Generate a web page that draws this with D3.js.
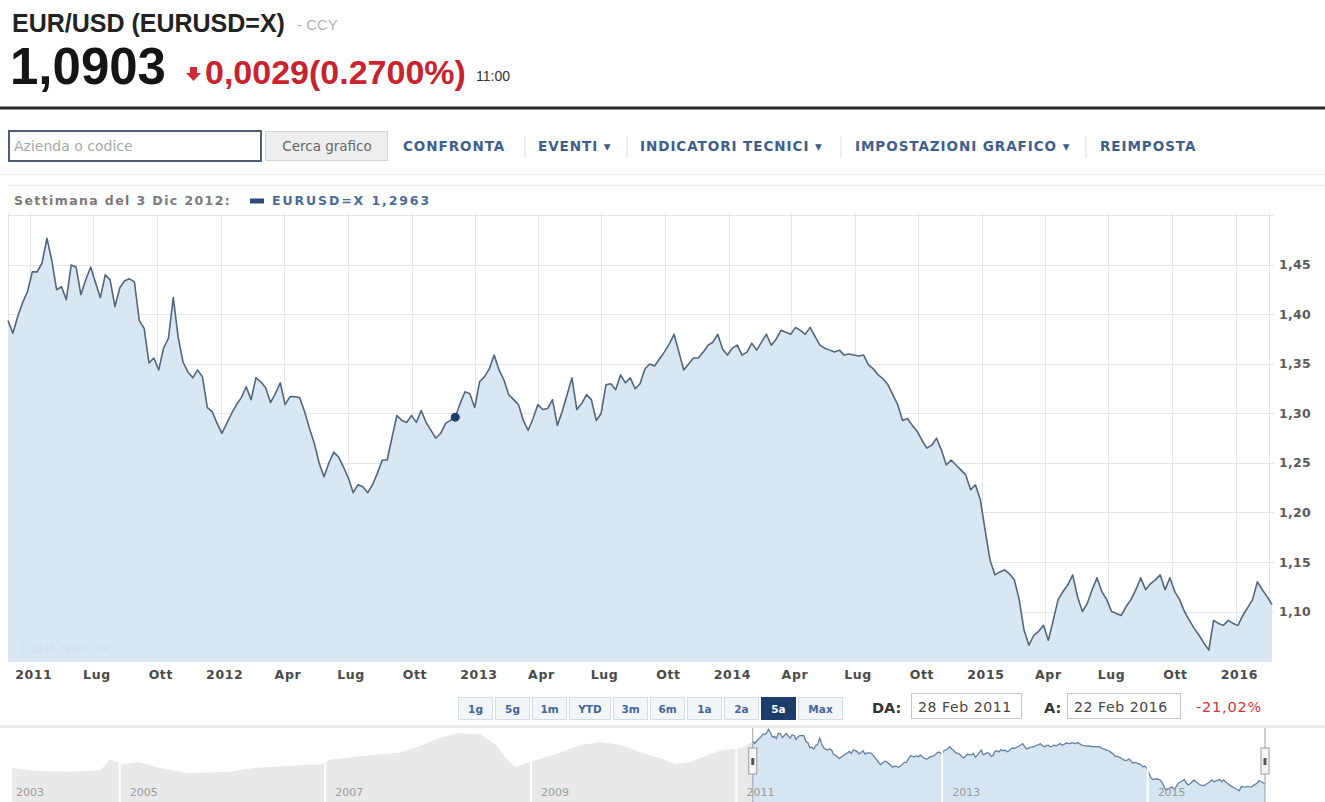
<!DOCTYPE html>
<html><head><meta charset="utf-8">
<script src="https://cdn.jsdelivr.net/npm/d3@7"></script>
<style>
body{margin:0;background:#fff;}
svg{display:block;}
</style></head><body>
<svg id="c" width="1325" height="802"></svg>
<script>
// ---------------- DATA ----------------
const weekStart = "2011-02-28";
const weekEnd = "2016-02-22";
const weeklyClose = [
1.394,1.381,1.398,1.412,1.423,1.443,1.443,1.452,1.477,1.455,
1.425,1.428,1.415,1.450,1.448,1.420,1.435,1.448,1.432,1.417,
1.440,1.435,1.408,1.427,1.434,1.436,1.433,1.394,1.386,1.351,
1.356,1.344,1.366,1.376,1.417,1.377,1.352,1.342,1.336,1.344,
1.337,1.306,1.302,1.290,1.280,1.290,1.300,1.309,1.316,1.327,
1.314,1.336,1.332,1.326,1.311,1.320,1.331,1.309,1.317,1.317,
1.316,1.302,1.285,1.270,1.250,1.236,1.250,1.261,1.256,1.246,
1.235,1.220,1.228,1.226,1.220,1.228,1.240,1.253,1.253,1.276,
1.298,1.293,1.291,1.298,1.291,1.303,1.291,1.283,1.275,1.280,
1.290,1.293,1.2963,1.310,1.322,1.320,1.306,1.332,1.337,1.345,
1.359,1.344,1.334,1.319,1.314,1.309,1.293,1.283,1.295,1.309,
1.304,1.305,1.314,1.288,1.302,1.319,1.336,1.304,1.310,1.319,
1.314,1.293,1.300,1.329,1.330,1.324,1.339,1.331,1.336,1.325,
1.330,1.345,1.350,1.348,1.355,1.362,1.370,1.380,1.362,1.344,
1.350,1.356,1.356,1.362,1.369,1.372,1.380,1.365,1.359,1.366,
1.369,1.359,1.362,1.371,1.364,1.372,1.380,1.369,1.375,1.384,
1.382,1.380,1.387,1.384,1.380,1.387,1.378,1.369,1.366,1.364,
1.362,1.364,1.359,1.360,1.359,1.358,1.359,1.349,1.345,1.339,
1.335,1.329,1.319,1.309,1.293,1.295,1.288,1.282,1.273,1.265,
1.268,1.275,1.263,1.248,1.253,1.248,1.243,1.238,1.223,1.228,
1.213,1.182,1.152,1.137,1.140,1.142,1.138,1.132,1.112,1.081,
1.066,1.076,1.080,1.086,1.071,1.091,1.112,1.120,1.127,1.137,
1.115,1.100,1.108,1.122,1.134,1.120,1.112,1.100,1.098,1.096,
1.105,1.112,1.122,1.134,1.122,1.128,1.132,1.137,1.122,1.134,
1.120,1.112,1.100,1.091,1.083,1.076,1.068,1.061,1.091,1.088,
1.086,1.091,1.088,1.086,1.096,1.104,1.112,1.130,1.122,1.115,
1.107];
const markerWeek = 92;
const legendLabel = "Settimana del 3 Dic 2012:";
const legendSeries = "EURUSD=X 1,2963";
const yTicks = [1.10, 1.15, 1.20, 1.25, 1.30, 1.35, 1.40, 1.45];
const monthLabels = ["Gen","Feb","Mar","Apr","Mag","Giu","Lug","Ago","Set","Ott","Nov","Dic"];

const navHistoryDates = ["2003-12-15","2004-03-15","2004-07-05","2004-10-25","2004-11-25","2004-12-25",
"2005-01-10","2005-03-12","2005-05-22","2005-09-05","2006-01-27","2006-04-23","2006-08-28","2006-12-16",
"2007-01-19","2007-05-05","2007-09-25","2007-12-05","2008-02-15","2008-04-10","2008-07-05","2008-08-30",
"2008-10-05","2008-11-07","2008-12-25","2009-02-07","2009-04-16","2009-06-27","2009-09-07","2009-11-17",
"2010-01-27","2010-04-08","2010-05-31","2010-07-24","2010-09-17","2010-11-08","2011-01-19","2011-02-28"];
const navHistoryValues = [1.215,1.195,1.19,1.20,1.27,1.255,
1.24,1.255,1.215,1.18,1.19,1.215,1.23,1.24,
1.27,1.295,1.32,1.365,1.42,1.45,1.445,1.37,
1.28,1.22,1.255,1.28,1.32,1.37,1.39,1.37,
1.32,1.28,1.24,1.255,1.30,1.335,1.35,1.394];
const navYears = [2003, 2005, 2007, 2009, 2011, 2013, 2015];

const quoteTitle = "EUR/USD (EURUSD=X)";
const quoteType = "- CCY";
const quotePrice = "1,0903";
const quoteChange = "0,0029(0.2700%)";
const quoteTime = "11:00";
const toolbarLinks = ["CONFRONTA", "EVENTI ▾", "INDICATORI TECNICI ▾", "IMPOSTAZIONI GRAFICO ▾", "REIMPOSTA"];
const rangeButtons = ["1g","5g","1m","YTD","3m","6m","1a","2a","5a","Max"];
const selectedRange = "5a";
const fromLabel = "DA:", fromDate = "28 Feb 2011";
const toLabel = "A:", toDate = "22 Feb 2016";
const periodChange = "-21,02%";

// ---------------- DRAWING ----------------
const svg = d3.select("#c");
const parse = d3.timeParse("%Y-%m-%d");
const start = parse(weekStart), end = parse(weekEnd);
const series = weeklyClose.map((v, i) => ({ date: d3.timeDay.offset(start, 7 * i), value: v }));

const SANS = "'Liberation Sans', Arial, sans-serif";
const VERD = "'DejaVu Sans', Verdana, sans-serif";

// header
svg.append("text").attr("x", 12).attr("y", 32).attr("font-family", SANS).attr("font-weight", "bold")
  .attr("font-size", 25).attr("fill", "#222").text(quoteTitle);
svg.append("text").attr("x", 297).attr("y", 30).attr("font-family", SANS)
  .attr("font-size", 15).attr("fill", "#b5b5b5").text(quoteType);
svg.append("text").attr("x", 10).attr("y", 84).attr("font-family", SANS).attr("font-weight", "bold")
  .attr("font-size", 51).attr("fill", "#141414").text(quotePrice);
svg.append("path").attr("d", "M190,67 L197,67 L197,73 L201,73 L193.5,81 L186,73 L190,73 Z").attr("fill", "#cc2a36");
svg.append("text").attr("x", 205).attr("y", 84).attr("font-family", SANS).attr("font-weight", "bold")
  .attr("font-size", 34).attr("fill", "#c8232f").text(quoteChange);
svg.append("text").attr("x", 476).attr("y", 81).attr("font-family", SANS)
  .attr("font-size", 14).attr("fill", "#333").text(quoteTime);
svg.append("rect").attr("x", 0).attr("y", 106.5).attr("width", 1325).attr("height", 3).attr("fill", "#262626");

// toolbar
svg.append("rect").attr("x", 9).attr("y", 131).attr("width", 252).attr("height", 30)
  .attr("fill", "#fff").attr("stroke", "#4f5d78").attr("stroke-width", 2);
svg.append("text").attr("x", 14).attr("y", 151).attr("font-family", VERD).attr("font-size", 14)
  .attr("fill", "#a8a8a8").text("Azienda o codice");
svg.append("rect").attr("x", 265.5).attr("y", 131.5).attr("width", 122).attr("height", 29)
  .attr("fill", "#eeeeee").attr("stroke", "#d2d2d2");
svg.append("text").attr("x", 327).attr("y", 151).attr("text-anchor", "middle").attr("font-family", VERD)
  .attr("font-size", 13.5).attr("fill", "#666").text("Cerca grafico");
const linkX = [403, 538, 640, 855, 1100];
const sepX = [525, 627, 841, 1086];
toolbarLinks.forEach((t, i) => {
  svg.append("text").attr("x", linkX[i]).attr("y", 151).attr("font-family", VERD).attr("font-weight", "bold")
    .attr("font-size", 13.5).attr("letter-spacing", 0.95).attr("fill", "#3e5e8c").text(t);
});
sepX.forEach(x => svg.append("line").attr("x1", x).attr("x2", x).attr("y1", 136).attr("y2", 158)
  .attr("stroke", "#dcdcdc"));
svg.append("line").attr("x1", 0).attr("x2", 1325).attr("y1", 174.5).attr("y2", 174.5).attr("stroke", "#eeeeee");
svg.append("line").attr("x1", 8).attr("x2", 1325).attr("y1", 185.5).attr("y2", 185.5).attr("stroke", "#ececec");

// legend
svg.append("text").attr("x", 14).attr("y", 205).attr("font-family", VERD).attr("font-weight", "bold")
  .attr("font-size", 12.5).attr("letter-spacing", 1.4).attr("fill", "#7a7a7a").text(legendLabel);
svg.append("rect").attr("x", 250).attr("y", 198.5).attr("width", 14).attr("height", 5).attr("fill", "#2c4b78");
svg.append("text").attr("x", 272).attr("y", 205).attr("font-family", VERD).attr("font-weight", "bold")
  .attr("font-size", 12.5).attr("letter-spacing", 1.9).attr("fill", "#4a6a98").text(legendSeries);

// main plot
const plot = { left: 8, right: 1272, top: 213, bottom: 662 };
const x = d3.scaleTime().domain([start, end]).range([plot.left, plot.right]);
const y = d3.scaleLinear().domain([1.049, 1.5025]).range([plot.bottom, plot.top]);

const g = svg.append("g");
const xTicks = x.ticks(d3.timeMonth.every(3)).filter(d => d > start);
// grid
g.append("g").selectAll("line").data(yTicks.concat([1.50])).join("line")
  .attr("x1", plot.left).attr("x2", 1274).attr("y1", d => Math.round(y(d)) + 0.5).attr("y2", d => Math.round(y(d)) + 0.5)
  .attr("stroke", "#e6e6e6");
g.append("g").selectAll("line").data(xTicks).join("line")
  .attr("x1", d => Math.round(x(d)) + 0.5).attr("x2", d => Math.round(x(d)) + 0.5)
  .attr("y1", plot.top).attr("y2", plot.bottom).attr("stroke", "#e6e6e6");
g.append("line").attr("x1", plot.left + 0.5).attr("x2", plot.left + 0.5).attr("y1", plot.top).attr("y2", plot.bottom).attr("stroke", "#e3e3e3");
g.append("line").attr("x1", 1269.5).attr("x2", 1269.5).attr("y1", plot.top).attr("y2", plot.bottom).attr("stroke", "#e3e3e3");

const area = d3.area().x(d => x(d.date)).y0(plot.bottom).y1(d => y(d.value));
const line = d3.line().x(d => x(d.date)).y(d => y(d.value));
g.append("path").datum(series).attr("d", area).attr("fill", "#d5e5f1").attr("fill-opacity", 0.92);
g.append("path").datum(series).attr("d", line).attr("fill", "none").attr("stroke", "#52677d").attr("stroke-width", 1.6)
  .attr("stroke-linejoin", "round");
g.append("circle").attr("cx", x(series[markerWeek].date)).attr("cy", y(series[markerWeek].value)).attr("r", 4.5)
  .attr("fill", "#1e3c6a");

g.append("text").attr("x", 18).attr("y", 652).attr("font-family", VERD).attr("font-size", 10)
  .attr("fill", "#000").attr("fill-opacity", 0.06).text("© 2016 Yahoo! Inc.");

// axes
const xAxis = d3.axisBottom(x).tickValues(xTicks).tickSize(0).tickPadding(0)
  .tickFormat((d, i) => (i === 0 || d.getMonth() === 0) ? d.getFullYear() : monthLabels[d.getMonth()]);
const xa = svg.append("g").attr("transform", `translate(3,${plot.bottom + 8})`).call(xAxis);
xa.select(".domain").remove();
xa.selectAll("text").attr("font-family", VERD).attr("font-weight", "bold").attr("font-size", 12.5)
  .attr("letter-spacing", 0.6).attr("fill", "#4a4a4a");

const yAxis = d3.axisRight(y).tickValues(yTicks).tickSize(0).tickPadding(0)
  .tickFormat(d => d3.format(".2f")(d).replace(".", ","));
const ya = svg.append("g").attr("transform", "translate(1279,0)").call(yAxis);
ya.select(".domain").remove();
ya.selectAll("text").attr("font-family", VERD).attr("font-weight", "bold").attr("font-size", 12.5)
  .attr("letter-spacing", 0.3).attr("fill", "#5a5a5a");

// range buttons
let bx = 458;
const btnW = { "YTD": 41, "Max": 44 };
rangeButtons.forEach(b => {
  const w = btnW[b] || 34;
  const sel = b === selectedRange;
  svg.append("rect").attr("x", bx + 0.5).attr("y", 697.5).attr("width", w).attr("height", 22)
    .attr("fill", sel ? "#1c3d6c" : "#f3f6f9").attr("stroke", sel ? "#1c3d6c" : "#d3dbe4");
  svg.append("text").attr("x", bx + w / 2 + 0.5).attr("y", 712.5).attr("text-anchor", "middle")
    .attr("font-family", VERD).attr("font-weight", "bold").attr("font-size", 10.5)
    .attr("fill", sel ? "#fff" : "#45659a").text(b);
  bx += w + 3;
});
svg.append("text").attr("x", 872).attr("y", 713).attr("font-family", VERD).attr("font-weight", "bold")
  .attr("font-size", 14.5).attr("fill", "#333").text(fromLabel);
svg.append("rect").attr("x", 911.5).attr("y", 693.5).attr("width", 110).attr("height", 25).attr("fill", "#fff").attr("stroke", "#c4c4c4");
svg.append("text").attr("x", 918).attr("y", 712).attr("font-family", VERD).attr("font-size", 14)
  .attr("letter-spacing", 0.6).attr("fill", "#444").text(fromDate);
svg.append("text").attr("x", 1044).attr("y", 713).attr("font-family", VERD).attr("font-weight", "bold")
  .attr("font-size", 14.5).attr("fill", "#333").text(toLabel);
svg.append("rect").attr("x", 1067.5).attr("y", 693.5).attr("width", 113).attr("height", 25).attr("fill", "#fff").attr("stroke", "#c4c4c4");
svg.append("text").attr("x", 1074).attr("y", 712).attr("font-family", VERD).attr("font-size", 14)
  .attr("letter-spacing", 0.6).attr("fill", "#444").text(toDate);
svg.append("text").attr("x", 1196).attr("y", 712).attr("font-family", VERD).attr("font-size", 14.5)
  .attr("letter-spacing", 0.8).attr("fill", "#d0343e").text(periodChange);

// navigator
const nav = { left: 8, right: 1265, top: 730, bottom: 802 };
const nx = d3.scaleTime().domain([parse("2003-12-01"), end]).range([nav.left, nav.right]);
const ny = d3.scaleLinear().domain([0.985, 1.472]).range([nav.bottom, nav.top]);
svg.append("rect").attr("x", 0).attr("y", 725).attr("width", 1325).attr("height", 3).attr("fill", "#ececec");
const hist = navHistoryDates.map((d, i) => ({ date: parse(d), value: navHistoryValues[i] }));
const nArea = d3.area().x(d => nx(d.date)).y0(nav.bottom).y1(d => ny(d.value));
const nLine = d3.line().x(d => nx(d.date)).y(d => ny(d.value));
svg.append("path").datum(hist).attr("d", nArea).attr("fill", "#e9e9e9");
svg.append("path").datum(series).attr("d", nArea).attr("fill", "#d5e5f1");
svg.append("path").datum(series).attr("d", nLine).attr("fill", "none").attr("stroke", "#6481a0").attr("stroke-width", 1.3);
navYears.slice(1).forEach(yr => {
  const xx = nx(new Date(yr, 0, 1));
  svg.append("line").attr("x1", xx).attr("x2", xx).attr("y1", 728).attr("y2", 802).attr("stroke", "#fff").attr("stroke-width", 2);
});
navYears.forEach((yr, i) => {
  const xx = i === 0 ? 10 : nx(new Date(yr, 0, 1)) + 4;
  svg.append("text").attr("x", xx + 6).attr("y", 796).attr("font-family", VERD).attr("font-size", 11)
    .attr("fill", "#9a9a9a").text(yr);
});
[nx(start), nx(end)].forEach(hx => {
  svg.append("line").attr("x1", hx).attr("x2", hx).attr("y1", 728).attr("y2", 802).attr("stroke", "#9aa3ad");
  svg.append("rect").attr("x", hx - 4).attr("y", 748).attr("width", 8).attr("height", 26)
    .attr("fill", "#f7f7f7").attr("stroke", "#9a9a9a");
  svg.append("rect").attr("x", hx - 1.5).attr("y", 758).attr("width", 3).attr("height", 7).attr("fill", "#555");
});
</script>
</body></html>
